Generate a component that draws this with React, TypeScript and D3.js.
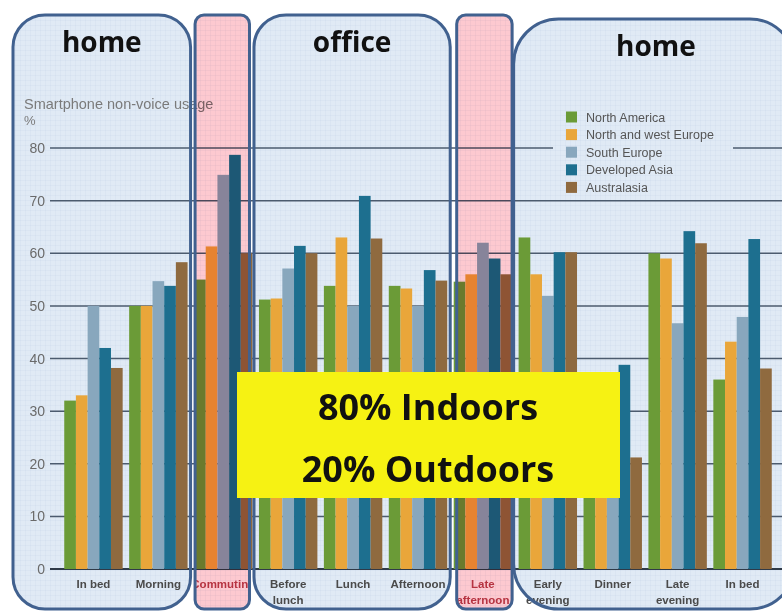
import React from "react";
import * as d3 from "d3";

const categories = ["In bed", "Morning", "Commuting", "Before\nlunch", "Lunch", "Afternoon", "Late\nafternoon", "Early\nevening", "Dinner", "Late\nevening", "In bed"];
const seriesNames = ["North America", "North and west Europe", "South Europe", "Developed Asia", "Australasia"];
const northAmerica = [32, 50, 55, 51.2, 53.8, 53.8, 54.6, 63, 30, 60, 36];
const nwEurope = [33, 50, 61.3, 51.4, 63, 53.3, 56, 56, 28, 59, 43.2];
const southEurope = [50, 54.7, 74.9, 57.1, 50, 50, 62, 51.9, 25, 46.7, 47.9];
const developedAsia = [42, 53.8, 78.7, 61.4, 70.9, 56.8, 59, 60.2, 38.8, 64.2, 62.7];
const australasia = [38.2, 58.3, 60, 60, 62.8, 54.8, 56, 60.2, 21.2, 61.9, 38.1];
const seriesValues = [northAmerica, nwEurope, southEurope, developedAsia, australasia];
const seriesColors = ["#6b9b37", "#e9a63a", "#88a7bd", "#1d6f8f", "#8f6a3f"];
const yTicks = [0, 10, 20, 30, 40, 50, 60, 70, 80];
const zoneLabels = ["home", "", "office", "", "home"];
const zoneFrom = [0, 2, 3, 6, 7];
const zoneTo = [1, 2, 5, 6, 10];
const zoneOutdoor = [false, true, false, true, false];
const calloutLines = ["80% Indoors", "20% Outdoors"];
const yTitle = "Smartphone non-voice usage";
const yUnit = "%";

export default function App() {
  const W = 782, H = 612;
  const y = d3.scaleLinear().domain([0, 80]).range([569, 148]);
  const idx = categories.map((_, i) => i);
  const x = d3.scaleBand<number>().domain(idx).range([61, 775]).paddingInner(0.1).paddingOuter(0.05);
  const bw = x.bandwidth();
  const xs = d3.scaleBand<number>().domain(seriesNames.map((_, i) => i)).range([0, bw]);

  const zoneRects = zoneLabels.map((lab, z) => {
    const f = zoneFrom[z], t = zoneTo[z];
    let x0: number, x1: number, y0 = 15, r = 32;
    if (zoneOutdoor[z]) {
      x0 = (x(f) as number) + (z === 1 ? 1 : 3);
      x1 = (x(t) as number) + bw - (z === 1 ? 3 : 0);
      r = 9;
    } else {
      x0 = f === 0 ? 13 : (x(f) as number) - 5;
      x1 = t === categories.length - 1 ? 795 : (x(t) as number) + bw + 3;
      if (z === 4) { y0 = 19; r = 45; }
    }
    return { lab, x0, x1, y0, y1: 609, r, outdoor: zoneOutdoor[z], z };
  });

  const border = "#41618f";
  const font = "'Liberation Sans', Arial, sans-serif";
  const bold = "'Open Sans', 'Liberation Sans', sans-serif";

  return (
    <svg width={W} height={H} style={{ position: "absolute", left: 0, top: 0, background: "#fff" }}>
      <defs>
        <pattern id="fine" width={5} height={5} patternUnits="userSpaceOnUse">
          <path d="M5 0 L0 0 0 5" fill="none" stroke="rgba(140,165,200,0.28)" strokeWidth={0.6} />
        </pattern>
        {zoneRects.map(zr => (
          <clipPath key={zr.z} id={`clip${zr.z}`}>
            <rect x={zr.x0} y={zr.y0} width={zr.x1 - zr.x0} height={zr.y1 - zr.y0} rx={zr.r} />
          </clipPath>
        ))}
      </defs>
      {/* zone fills */}
      {zoneRects.map(zr => (
        <g key={"f" + zr.z}>
          <rect x={zr.x0} y={zr.y0} width={zr.x1 - zr.x0} height={zr.y1 - zr.y0} rx={zr.r} fill={zr.outdoor ? "#ffffff" : "#e0eaf5"} />
          <rect x={zr.x0} y={zr.y0} width={zr.x1 - zr.x0} height={zr.y1 - zr.y0} rx={zr.r} fill="url(#fine)" />
        </g>
      ))}
      {/* y title */}
      <text x={24} y={109} fontFamily={font} fontSize={14.5} fill="#7a7a7a">{yTitle}</text>
      <text x={24} y={125} fontFamily={font} fontSize={13} fill="#7a7a7a">{yUnit}</text>
      {/* grid */}
      {yTicks.map(t => (
        <g key={t}>
          <line x1={50} x2={W} y1={y(t)} y2={y(t)} stroke={t === 0 ? "#2f3a48" : "#4c5b6e"} strokeWidth={t === 0 ? 2 : 1.5} />
          <text x={45} y={y(t) + 5} textAnchor="end" fontFamily={font} fontSize={14} fill="#6a6a6a">{t}</text>
        </g>
      ))}
      {/* bars */}
      {idx.map(ci => (
        <g key={ci} transform={`translate(${x(ci)},0)`}>
          {seriesValues.map((vals, si) => (
            <rect key={si} x={xs(si)} width={xs.bandwidth()} y={y(vals[ci])} height={y(0) - y(vals[ci])} fill={seriesColors[si]} />
          ))}
        </g>
      ))}
      {/* x labels */}
      {idx.map(ci => {
        const zr = zoneRects.find(r => ci >= zoneFrom[r.z] && ci <= zoneTo[r.z])!;
        const lines = categories[ci].split("\n");
        return (
          <g key={"l" + ci} clipPath={zr.outdoor ? `url(#clip${zr.z})` : undefined}>
            <text x={(x(ci) as number) + bw / 2} y={588} textAnchor="middle" fontFamily={font} fontWeight="bold" fontSize={11.5} fill={zr.outdoor ? "#b8404f" : "#4a4a4a"}>
              {lines.map((ln, k) => (
                <tspan key={k} x={(x(ci) as number) + bw / 2} dy={k === 0 ? 0 : 16}>{ln}</tspan>
              ))}
            </text>
          </g>
        );
      })}
      {/* pink overlays */}
      {zoneRects.filter(zr => zr.outdoor).map(zr => (
        <rect key={"p" + zr.z} x={zr.x0} y={zr.y0} width={zr.x1 - zr.x0} height={zr.y1 - zr.y0} rx={zr.r} fill="#fdc9d0" style={{ mixBlendMode: "multiply" }} />
      ))}
      {/* legend */}
      <rect x={553} y={106} width={180} height={90} fill="#e0eaf5" />
      <rect x={553} y={106} width={180} height={90} fill="url(#fine)" />
      {seriesNames.map((s, si) => (
        <g key={s} transform={`translate(566,${117 + si * 17.6})`}>
          <rect x={0} y={-5.5} width={11} height={11} fill={seriesColors[si]} />
          <text x={20} y={4.5} fontFamily={font} fontSize={12.5} fill="#555">{s}</text>
        </g>
      ))}
      {/* borders */}
      {zoneRects.map(zr => (
        <rect key={"b" + zr.z} x={zr.x0} y={zr.y0} width={zr.x1 - zr.x0} height={zr.y1 - zr.y0} rx={zr.r} fill="none" stroke={border} strokeWidth={3} />
      ))}
      {/* zone titles */}
      {zoneRects.filter(zr => zr.lab).map(zr => (
        <text key={"t" + zr.z} x={zr.z === 4 ? 656 : (zr.x0 + zr.x1) / 2} y={zr.z === 4 ? 56 : 52} textAnchor="middle" fontFamily={bold} fontWeight="bold" fontSize={28} fill="#111">{zr.lab}</text>
      ))}
      {/* callout */}
      <rect x={237} y={372} width={383} height={126} fill="#f6f213" />
      {calloutLines.map((t, k) => (
        <text key={t} x={428} y={420 + k * 62} textAnchor="middle" fontFamily={bold} fontWeight="bold" fontSize={36} fill="#111">{t}</text>
      ))}
    </svg>
  );
}
